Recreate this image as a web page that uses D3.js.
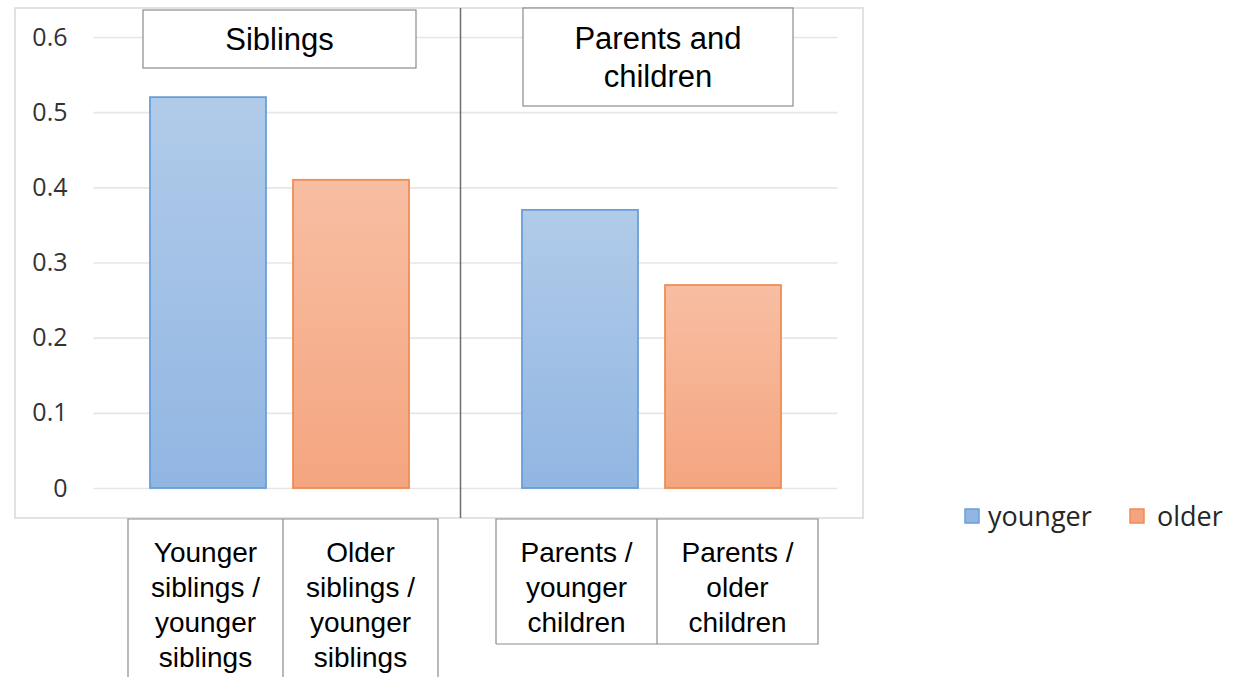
<!DOCTYPE html>
<html><head><meta charset="utf-8">
<script src="https://cdn.jsdelivr.net/npm/d3@7"></script>
<style>body{margin:0;background:#fff}</style>
</head><body><svg id="c" width="1238" height="677"></svg>
<script>
// ---- data ----
const groups = ["Siblings", "Parents and children"];
const series = ["younger", "older"];
const youngerValues = [0.52, 0.37];
const olderValues = [0.41, 0.27];
const categoryLabels = [
  ["Younger", "siblings /", "younger", "siblings"],
  ["Older", "siblings /", "younger", "siblings"],
  ["Parents /", "younger", "children"],
  ["Parents /", "older", "children"]
];
const groupTitleLines = [["Siblings"], ["Parents and", "children"]];
const yTicks = [0, 0.1, 0.2, 0.3, 0.4, 0.5, 0.6];
const yTickLabels = ["0", "0.1", "0.2", "0.3", "0.4", "0.5", "0.6"];

// ---- layout ----
const svg = d3.select("#c");
const frame = {x: 15, y: 8, w: 848, h: 510};
const plot = {l: 93.5, r: 837.5, t: 37, b: 488};
const titleBoxes = [{x: 143, y: 10, w: 273, h: 58}, {x: 523, y: 8, w: 270, h: 98}];
const catBoxes = [
  {x0: 128, x1: 283, x2: 438, y: 519, y1: 690},
  {x0: 496, x1: 657, x2: 818, y: 519, y1: 644}
];

const colors = {
  younger: {top: "#b1cbe9", bot: "#91b6e2", stroke: "#6a9ed8"},
  older:   {top: "#f8bea3", bot: "#f4a57f", stroke: "#ef8d53"}
};

const defs = svg.append("defs");
series.forEach(s => {
  const g = defs.append("linearGradient").attr("id", "g-" + s)
    .attr("x1", 0).attr("y1", 0).attr("x2", 0).attr("y2", 1);
  g.append("stop").attr("offset", "0%").attr("stop-color", colors[s].top);
  g.append("stop").attr("offset", "100%").attr("stop-color", colors[s].bot);
});

// frame
svg.append("rect").attr("x", frame.x).attr("y", frame.y).attr("width", frame.w).attr("height", frame.h)
  .attr("fill", "#fff").attr("stroke", "#d9d9d9").attr("stroke-width", 1.5);

// scales
const y = d3.scaleLinear().domain([0, 0.6]).range([plot.b, plot.t]);
const xg = d3.scaleBand().domain(groups).range([plot.l, plot.r]).padding(0);
const xi = d3.scaleBand().domain(series).range([0, xg.bandwidth()])
  .paddingInner(0.189).paddingOuter(0.395);

// y axis with gridlines
const yAxis = d3.axisLeft(y).tickValues(yTicks)
  .tickFormat((d, i) => yTickLabels[i])
  .tickSize(-(plot.r - plot.l)).tickPadding(26);
const ga = svg.append("g").attr("transform", `translate(${plot.l},0)`).call(yAxis);
ga.select(".domain").remove();
ga.selectAll(".tick line").attr("stroke", "#e6e6e6").attr("stroke-width", 1.6);
ga.selectAll(".tick text").attr("fill", "#333")
  .style("font-family", "'Open Sans', sans-serif").style("font-size", "25px");

// bars
const barData = [];
groups.forEach((g, gi) => {
  barData.push({g, s: "younger", v: youngerValues[gi]});
  barData.push({g, s: "older", v: olderValues[gi]});
});
svg.append("g").selectAll("rect").data(barData).join("rect")
  .attr("x", d => xg(d.g) + xi(d.s))
  .attr("y", d => y(d.v))
  .attr("width", xi.bandwidth())
  .attr("height", d => y(0) - y(d.v))
  .attr("fill", d => `url(#g-${d.s})`)
  .attr("stroke", d => colors[d.s].stroke)
  .attr("stroke-width", 1.8);

// divider
svg.append("line").attr("x1", xg(groups[1]) - 5).attr("x2", xg(groups[1]) - 5)
  .attr("y1", frame.y).attr("y2", frame.y + frame.h)
  .attr("stroke", "#6e6e6e").attr("stroke-width", 1.5);

// title boxes
const font = "'Liberation Sans', Arial, sans-serif";
titleBoxes.forEach((b, i) => {
  svg.append("rect").attr("x", b.x).attr("y", b.y).attr("width", b.w).attr("height", b.h)
    .attr("fill", "#fff").attr("stroke", "#8c8c8c").attr("stroke-width", 1.2);
  const lines = groupTitleLines[i];
  const lh = 38;
  const cy = b.y + b.h / 2;
  lines.forEach((t, k) => {
    svg.append("text").attr("x", b.x + b.w / 2)
      .attr("y", cy + (k - (lines.length - 1) / 2) * lh)
      .attr("dy", "0.36em").attr("text-anchor", "middle")
      .style("font-family", font).style("font-size", "31px").attr("fill", "#000").text(t);
  });
});

// category label boxes
catBoxes.forEach((b, i) => {
  const g = svg.append("g");
  g.append("path")
    .attr("d", `M${b.x0},${b.y1}V${b.y}H${b.x2}V${b.y1}H${b.x0}M${b.x1},${b.y}V${b.y1}`)
    .attr("fill", "none").attr("stroke", "#8c8c8c").attr("stroke-width", 1.2);
  [[b.x0, b.x1], [b.x1, b.x2]].forEach((c, k) => {
    const lines = categoryLabels[i * 2 + k];
    lines.forEach((t, j) => {
      g.append("text").attr("x", (c[0] + c[1]) / 2).attr("y", 552 + j * 35)
        .attr("dy", "0.36em").attr("text-anchor", "middle")
        .style("font-family", font).style("font-size", "28px").attr("fill", "#000").text(t);
    });
  });
});

// legend
const legendX = [965, 1130];
series.forEach((s, i) => {
  svg.append("rect").attr("x", legendX[i]).attr("y", 509).attr("width", 14).attr("height", 14)
    .attr("fill", colors[s].bot).attr("stroke", colors[s].stroke).attr("stroke-width", 1.5);
  svg.append("text").attr("x", legendX[i] + (i === 0 ? 23 : 27)).attr("y", 516).attr("dy", "0.36em")
    .style("font-family", "'Open Sans', sans-serif").style("font-size", "27px")
    .attr("fill", "#262626").text(s);
});
</script></body></html>
